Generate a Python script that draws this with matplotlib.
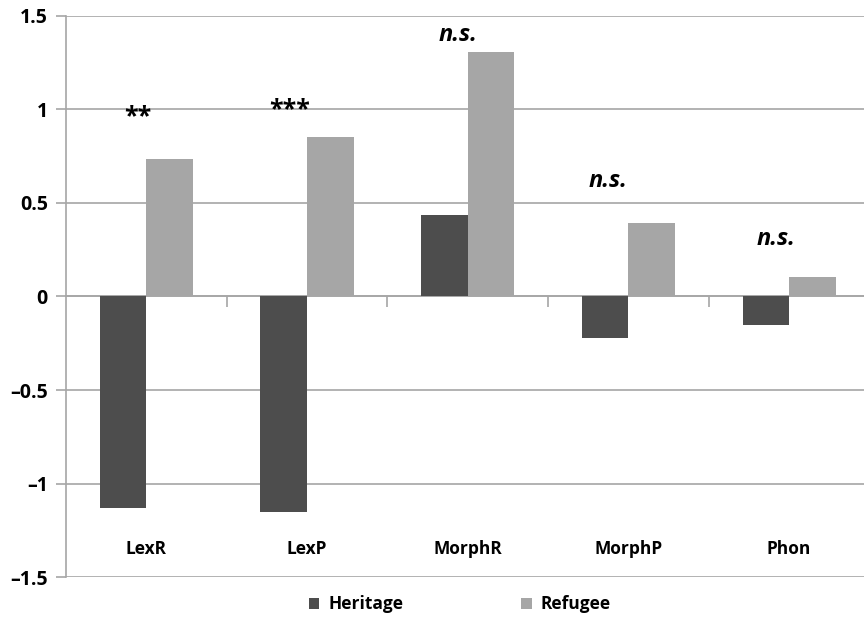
import numpy as np
import matplotlib.pyplot as plt
from matplotlib.ticker import FixedLocator

categories = ['LexR', 'LexP', 'MorphR', 'MorphP', 'Phon']
heritage = [-1.13, -1.155, 0.435, -0.22, -0.155]
refugee = [0.735, 0.855, 1.305, 0.395, 0.105]
sig_marks = ['**', '***', 'n.s.', 'n.s.', 'n.s.']
sig_y = [0.96, 1.0, 1.40, 0.615, 0.31]
ytick_vals = [-1.5, -1, -0.5, 0, 0.5, 1, 1.5]
ytick_text = ['\u20131.5', '\u20131', '\u20130.5', '0', '0.5', '1', '1.5']

plt.rcParams['font.family'] = ['Open Sans', 'DejaVu Sans']
plt.rcParams['font.weight'] = 'bold'
grid_col = '#a6a6a6'

fig = plt.figure(figsize=(8.64, 6.17), dpi=100)
ax = fig.add_axes([0.0764, 0.0648, 0.93, 0.9093])

x = np.arange(len(categories))
w = 0.29
ax.bar(x - w / 2, heritage, w, color='#4d4d4d', label='Heritage', zorder=3)
ax.bar(x + w / 2, refugee, w, color='#a6a6a6', label='Refugee', zorder=3)

ax.set_xlim(-0.5, len(categories) - 0.5)
ax.set_ylim(-1.5, 1.5)
ax.grid(axis='y', color=grid_col, lw=1.2, zorder=0)

# zero line carries the category separator ticks
ax.spines['bottom'].set_position(('data', 0))
ax.spines['bottom'].set_color(grid_col)
ax.spines['bottom'].set_linewidth(1.2)
ax.spines['left'].set_color(grid_col)
ax.spines['left'].set_linewidth(1.2)
ax.spines['top'].set_visible(False)
ax.spines['right'].set_visible(False)
ax.xaxis.set_major_locator(FixedLocator(x[:-1] + 0.5))
ax.set_xticklabels([])
ax.tick_params(axis='x', length=8, color=grid_col, width=1.2, direction='out')

ax.set_yticks(ytick_vals)
ax.set_yticklabels(ytick_text, fontsize=14, fontweight='bold')
ax.tick_params(axis='y', length=7, color=grid_col, width=1.2, pad=6)

for i, name in enumerate(categories):
    ax.text(i, -1.35, name, ha='center', va='center', fontsize=12.5, fontweight='bold')

offsets = [-0.05, -0.11, -0.06, -0.13, -0.08]
for i, (m, yv) in enumerate(zip(sig_marks, sig_y)):
    if m == 'n.s.':
        ax.text(i + offsets[i], yv, m, ha='center', va='center', fontsize=17,
                fontweight='bold', style='italic')
    else:
        ax.text(i + offsets[i], yv, m, ha='center', va='center', fontsize=18,
                fontweight='bold')

ax.legend(loc='upper center', bbox_to_anchor=(0.49, -0.005), ncol=2, frameon=False,
          prop={'size': 12.5, 'weight': 'bold'}, handlelength=0.6, handleheight=0.6,
          columnspacing=6.8, handletextpad=0.5)

fig.savefig('out.png', dpi=100)
